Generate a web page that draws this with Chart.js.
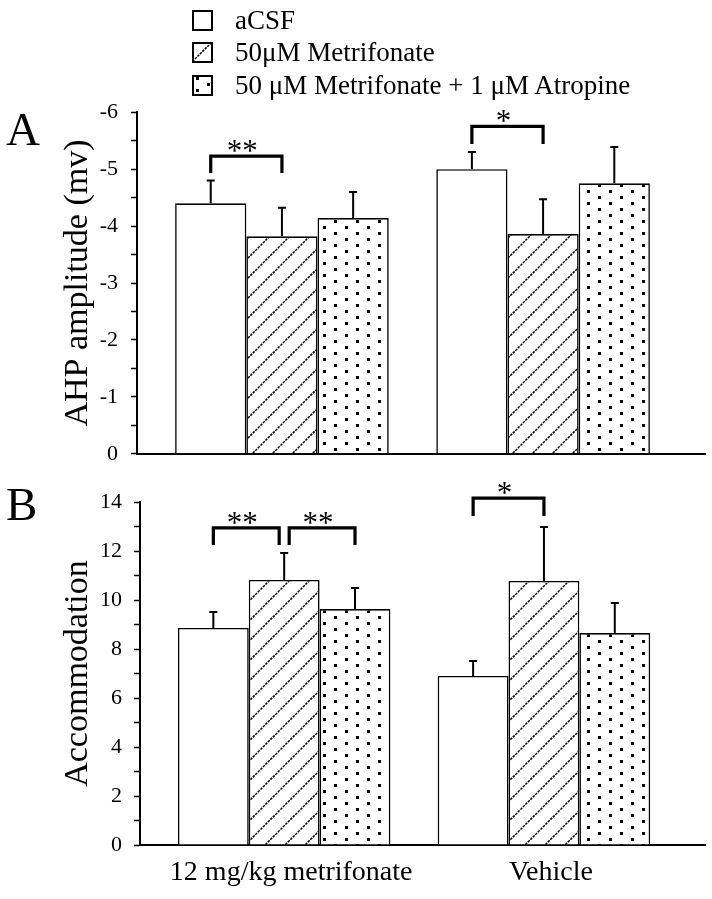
<!DOCTYPE html>
<html>
<head>
<meta charset="utf-8">
<script src="https://cdn.jsdelivr.net/npm/chart.js@4.4.0/dist/chart.umd.min.js"></script>
<style>
  body { margin: 0; background: #fff; width: 712px; height: 899px; position: relative; overflow: hidden;
         font-family: 'Liberation Serif', 'Times New Roman', serif; }
  #legend { position: absolute; left: 192px; top: 4px; z-index: 2; }
  .row { display: flex; align-items: center; height: 32.5px; }
  .row canvas { width: 21px; height: 21px; margin-right: 22px; }
  .row span { font-size: 27px; color: #000; white-space: nowrap; }
  #chartA { position: absolute; left: 0; top: 86px; }
  #chartB { position: absolute; left: 0; top: 470px; }
</style>
</head>
<body>
<div id="legend"></div>
<canvas id="chartA" width="712" height="394"></canvas>
<canvas id="chartB" width="712" height="429"></canvas>
<script>
const groups = ['12 mg/kg metrifonate', 'Vehicle'];
const seriesNames = ['aCSF', '50μM Metrifonate', '50 μM Metrifonate + 1 μM Atropine'];

// panel A - AHP amplitude (mv), plotted negative
const ahpAcsf = [-4.4, -5.0];
const ahpMetrifonate = [-3.82, -3.86];
const ahpAtropine = [-4.14, -4.75];
const ahpAcsfErr = [0.4, 0.3];
const ahpMetrifonateErr = [0.5, 0.61];
const ahpAtropineErr = [0.46, 0.64];
const ahpTickLabels = [-6, -5, -4, -3, -2, -1, 0];

// panel B - accommodation
const accAcsf = [8.86, 6.9];
const accMetrifonate = [10.82, 10.78];
const accAtropine = [9.63, 8.65];
const accAcsfErr = [0.65, 0.61];
const accMetrifonateErr = [1.1, 2.2];
const accAtropineErr = [0.86, 1.23];
const accTickLabels = [0, 2, 4, 6, 8, 10, 12, 14];

// significance brackets (group, bar pair, level of bracket, end of legs)
const ahpSig = [
  { group: 0, from: 0, to: 1, level: -5.23, legEnd: -4.93, mark: '**' },
  { group: 1, from: 0, to: 1, level: -5.75, legEnd: -5.44, mark: '*' }
];
const accSig = [
  { group: 0, from: 0, to: 1, level: 12.94, legEnd: 12.24, mark: '**' },
  { group: 0, from: 1, to: 2, level: 12.94, legEnd: 12.24, mark: '**' },
  { group: 1, from: 0, to: 1, level: 14.16, legEnd: 13.43, mark: '*' }
];

const serif = "'Liberation Serif', 'Times New Roman', serif";

function hatchPattern() {
  const c = document.createElement('canvas');
  c.width = 20; c.height = 20;
  const g = c.getContext('2d');
  g.fillStyle = '#fff';
  g.fillRect(0, 0, 20, 20);
  g.strokeStyle = '#000';
  g.lineWidth = 1.5;
  g.setLineDash([2.5, 1]);
  g.beginPath();
  g.moveTo(-2, 22); g.lineTo(22, -2);
  g.moveTo(-2, 2); g.lineTo(2, -2);
  g.moveTo(18, 22); g.lineTo(22, 18);
  g.stroke();
  return g.createPattern(c, 'repeat');
}

function dotPattern() {
  const c = document.createElement('canvas');
  c.width = 22; c.height = 12;
  const g = c.getContext('2d');
  g.fillStyle = '#fff';
  g.fillRect(0, 0, 22, 12);
  g.fillStyle = '#000';
  g.fillRect(4, 2, 3, 3);
  g.fillRect(15, 8, 3, 3);
  return g.createPattern(c, 'repeat');
}

const fills = ['#fff', hatchPattern(), dotPattern()];

// legend (html so the text stays text)
const legendEl = document.getElementById('legend');
seriesNames.forEach((name, i) => {
  const row = document.createElement('div');
  row.className = 'row';
  const sw = document.createElement('canvas');
  sw.width = 21; sw.height = 21;
  const g = sw.getContext('2d');
  g.fillStyle = fills[i];
  g.fillRect(0, 0, 21, 21);
  g.strokeStyle = '#000';
  g.lineWidth = 2;
  g.strokeRect(1, 1, 19, 19);
  const t = document.createElement('span');
  t.textContent = name;
  row.appendChild(sw);
  row.appendChild(t);
  legendEl.appendChild(row);
});

// error bars, brackets with stars and the panel letter
const extras = {
  id: 'extras',
  afterDatasetsDraw(chart, args, opts) {
    const ctx = chart.ctx;
    const y = chart.scales.y;
    ctx.save();
    ctx.strokeStyle = '#000';
    ctx.lineWidth = 2;
    chart.data.datasets.forEach((ds, di) => {
      chart.getDatasetMeta(di).data.forEach((bar, i) => {
        const v = ds.data[i].y;
        const top = y.getPixelForValue(v + Math.sign(v) * ds.errors[i]);
        ctx.beginPath();
        ctx.moveTo(bar.x, bar.y);
        ctx.lineTo(bar.x, top);
        ctx.moveTo(bar.x - 4, top);
        ctx.lineTo(bar.x + 4, top);
        ctx.stroke();
      });
    });

    const items = opts.brackets || [];
    items.forEach(b => {
      let x0 = chart.getDatasetMeta(b.from).data[b.group].x;
      let x1 = chart.getDatasetMeta(b.to).data[b.group].x;
      if (items.some(o => o !== b && o.group === b.group && o.from === b.to)) x1 -= 5;
      if (items.some(o => o !== b && o.group === b.group && o.to === b.from)) x0 += 5;
      const yTop = y.getPixelForValue(b.level);
      const yLeg = y.getPixelForValue(b.legEnd);
      ctx.lineWidth = 3.2;
      ctx.lineJoin = 'miter';
      ctx.beginPath();
      ctx.moveTo(x0, yLeg);
      ctx.lineTo(x0, yTop);
      ctx.lineTo(x1, yTop);
      ctx.lineTo(x1, yLeg);
      ctx.stroke();
      ctx.fillStyle = '#000';
      ctx.font = '31px ' + serif;
      ctx.textAlign = 'center';
      ctx.textBaseline = 'alphabetic';
      ctx.fillText(b.mark, (x0 + x1) / 2 - 4, yTop + 5);
    });

    ctx.fillStyle = '#000';
    ctx.font = '47px ' + serif;
    ctx.textAlign = 'left';
    ctx.textBaseline = 'alphabetic';
    ctx.fillText(opts.letter, 6, opts.letterY);
    ctx.restore();
  }
};

function buildChart(id, o) {
  const datasets = o.series.map((vals, s) => ({
    label: seriesNames[s],
    data: vals.map((v, i) => ({ x: i + 1, y: v })),
    errors: o.errors[s],
    backgroundColor: fills[s],
    borderColor: '#000',
    borderWidth: 1.6,
    categoryPercentage: 0.818,
    barPercentage: 1
  }));

  return new Chart(document.getElementById(id), {
    type: 'bar',
    data: { datasets },
    options: {
      responsive: false,
      animation: false,
      events: [],
      layout: { padding: o.padding },
      plugins: {
        legend: { display: false },
        tooltip: { enabled: false },
        extras: { letter: o.letter, letterY: o.letterY, brackets: o.brackets }
      },
      scales: {
        x: {
          type: 'linear',
          offset: false,
          min: 0.445,
          max: 2.62,
          afterBuildTicks: s => { s.ticks = groups.map((g, i) => ({ value: i + 1 })); },
          afterFit: s => { s.height = o.xHeight; },
          grid: { display: false, drawTicks: false, offset: false },
          border: { display: true, color: '#000', width: 2 },
          ticks: {
            display: o.showGroups,
            padding: 11,
            labelOffset: 7,
            color: '#000',
            font: { family: serif, size: 28 },
            callback: v => groups[v - 1]
          }
        },
        y: {
          min: o.min,
          max: o.max,
          reverse: o.reverse,
          afterFit: s => { s.width = o.yWidth; },
          grid: { display: true, drawOnChartArea: false, drawTicks: true, tickLength: 6, tickWidth: 1.5, tickColor: '#000', color: '#000' },
          border: { display: true, color: '#000', width: 2 },
          ticks: {
            stepSize: o.step,
            autoSkip: false,
            padding: o.tickPad,
            color: '#000',
            font: { family: serif, size: 22 },
            callback: v => o.tickLabels.includes(v) ? String(v) : ''
          },
          title: {
            display: true,
            text: o.title,
            color: '#000',
            font: { family: serif, size: 34 },
            padding: { top: 58, bottom: 0 }
          }
        }
      }
    },
    plugins: [extras]
  });
}

buildChart('chartA', {
  series: [ahpAcsf, ahpMetrifonate, ahpAtropine],
  errors: [ahpAcsfErr, ahpMetrifonateErr, ahpAtropineErr],
  brackets: ahpSig,
  tickLabels: ahpTickLabels,
  min: -6, max: 0, step: 0.5, reverse: true,
  title: 'AHP amplitude (mv)',
  letter: 'A', letterY: 59,
  padding: { top: 0, right: 7, bottom: 0, left: 0 },
  xHeight: 26, yWidth: 137, tickPad: 13,
  showGroups: false
});

buildChart('chartB', {
  series: [accAcsf, accMetrifonate, accAtropine],
  errors: [accAcsfErr, accMetrifonateErr, accAtropineErr],
  brackets: accSig,
  tickLabels: accTickLabels,
  min: 0, max: 14, step: 1, reverse: false,
  title: 'Accommodation',
  letter: 'B', letterY: 50,
  padding: { top: 32, right: 7, bottom: 0, left: 0 },
  xHeight: 54, yWidth: 140, tickPad: 12,
  showGroups: true
});
</script>
</body>
</html>
